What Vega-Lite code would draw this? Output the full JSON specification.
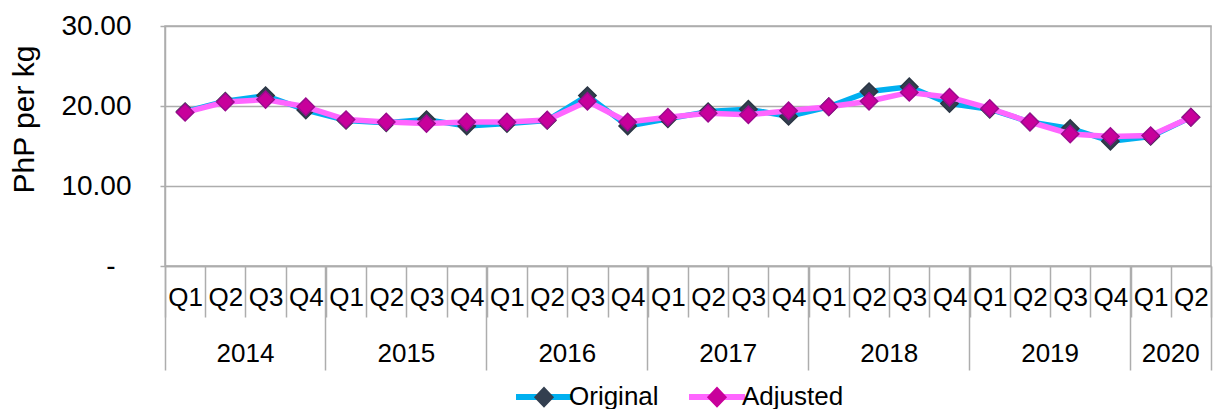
{
  "$schema": "https://vega.github.io/schema/vega-lite/v6.json",
  "autosize": "none",
  "width": 1046,
  "height": 240,
  "padding": {"left": 165, "top": 26, "right": 2, "bottom": 143},
  "background": "white",
  "config": {
    "font": "Liberation Sans",
    "view": {"stroke": "#ADADAD", "strokeWidth": 1.5},
    "axis": {"labelColor": "#000000", "titleColor": "#000000", "labelFont": "Liberation Sans", "titleFont": "Liberation Sans"},
    "legend": {"labelColor": "#000000", "labelFont": "Liberation Sans"}
  },
  "data": {
    "values": [
      {"period": "2014 Q1", "series": "Original", "value": 19.3}, {"period": "2014 Q1", "series": "Adjusted", "value": 19.2},
      {"period": "2014 Q2", "series": "Original", "value": 20.6}, {"period": "2014 Q2", "series": "Adjusted", "value": 20.5},
      {"period": "2014 Q3", "series": "Original", "value": 21.3}, {"period": "2014 Q3", "series": "Adjusted", "value": 20.8},
      {"period": "2014 Q4", "series": "Original", "value": 19.5}, {"period": "2014 Q4", "series": "Adjusted", "value": 19.9},
      {"period": "2015 Q1", "series": "Original", "value": 18.2}, {"period": "2015 Q1", "series": "Adjusted", "value": 18.3},
      {"period": "2015 Q2", "series": "Original", "value": 17.9}, {"period": "2015 Q2", "series": "Adjusted", "value": 18.0},
      {"period": "2015 Q3", "series": "Original", "value": 18.3}, {"period": "2015 Q3", "series": "Adjusted", "value": 17.8},
      {"period": "2015 Q4", "series": "Original", "value": 17.5}, {"period": "2015 Q4", "series": "Adjusted", "value": 18.0},
      {"period": "2016 Q1", "series": "Original", "value": 17.8}, {"period": "2016 Q1", "series": "Adjusted", "value": 18.0},
      {"period": "2016 Q2", "series": "Original", "value": 18.2}, {"period": "2016 Q2", "series": "Adjusted", "value": 18.25},
      {"period": "2016 Q3", "series": "Original", "value": 21.3}, {"period": "2016 Q3", "series": "Adjusted", "value": 20.6},
      {"period": "2016 Q4", "series": "Original", "value": 17.5}, {"period": "2016 Q4", "series": "Adjusted", "value": 18.0},
      {"period": "2017 Q1", "series": "Original", "value": 18.4}, {"period": "2017 Q1", "series": "Adjusted", "value": 18.6},
      {"period": "2017 Q2", "series": "Original", "value": 19.3}, {"period": "2017 Q2", "series": "Adjusted", "value": 19.1},
      {"period": "2017 Q3", "series": "Original", "value": 19.6}, {"period": "2017 Q3", "series": "Adjusted", "value": 18.9},
      {"period": "2017 Q4", "series": "Original", "value": 18.7}, {"period": "2017 Q4", "series": "Adjusted", "value": 19.4},
      {"period": "2018 Q1", "series": "Original", "value": 19.9}, {"period": "2018 Q1", "series": "Adjusted", "value": 19.9},
      {"period": "2018 Q2", "series": "Original", "value": 21.8}, {"period": "2018 Q2", "series": "Adjusted", "value": 20.6},
      {"period": "2018 Q3", "series": "Original", "value": 22.4}, {"period": "2018 Q3", "series": "Adjusted", "value": 21.7},
      {"period": "2018 Q4", "series": "Original", "value": 20.3}, {"period": "2018 Q4", "series": "Adjusted", "value": 21.1},
      {"period": "2019 Q1", "series": "Original", "value": 19.6}, {"period": "2019 Q1", "series": "Adjusted", "value": 19.7},
      {"period": "2019 Q2", "series": "Original", "value": 18.0}, {"period": "2019 Q2", "series": "Adjusted", "value": 18.0},
      {"period": "2019 Q3", "series": "Original", "value": 17.2}, {"period": "2019 Q3", "series": "Adjusted", "value": 16.5},
      {"period": "2019 Q4", "series": "Original", "value": 15.6}, {"period": "2019 Q4", "series": "Adjusted", "value": 16.2},
      {"period": "2020 Q1", "series": "Original", "value": 16.2}, {"period": "2020 Q1", "series": "Adjusted", "value": 16.3},
      {"period": "2020 Q2", "series": "Original", "value": 18.6}, {"period": "2020 Q2", "series": "Adjusted", "value": 18.6}
    ]
  },
  "encoding": {
    "y": {
      "field": "value",
      "type": "quantitative",
      "scale": {"domain": [0, 30], "nice": false, "zero": true},
      "axis": {
        "title": "PhP per kg",
        "titleFontSize": 30,
        "titleFontWeight": "normal",
        "titlePadding": 21,
        "titleY": 93,
        "values": [0, 10, 20, 30],
        "labelExpr": "datum.value == 0 ? '-' : format(datum.value, '.2f')",
        "labelFontSize": 28,
        "labelPadding": {"condition": {"test": "datum.value == 0", "value": 45}, "value": 29},
        "tickSize": 5,
        "tickColor": "#ADADAD",
        "tickWidth": 1.5,
        "domainColor": "#ADADAD",
        "domainWidth": 1.5,
        "grid": true,
        "gridColor": "#ADADAD",
        "gridWidth": 1.5
      }
    }
  },
  "layer": [
    {
      "transform": [{"filter": "datum.series === 'Original'"}],
      "mark": {"type": "line", "strokeWidth": 5.5, "strokeJoin": "round", "strokeCap": "round"},
      "encoding": {
        "x": {
          "field": "period", "type": "ordinal",
          "scale": {"type": "band", "paddingInner": 0, "paddingOuter": 0},
          "axis": {
            "title": null, "orient": "bottom", "tickBand": "extent", "ticks": true,
            "labelExpr": "split(datum.value, ' ')[1]",
            "labelPadding": -20, "labelBaseline": "middle", "labelAlign": "center", "labelAngle": 0,
            "labelFontSize": 26, "labelOverlap": false, "labelBound": false, "labelFlush": false,
            "tickSize": 51, "tickColor": "#ADADAD", "tickWidth": 1.5,
            "domainColor": "#ADADAD", "domainWidth": 1.5, "grid": false
          }
        },
        "stroke": {
          "field": "series", "type": "nominal",
          "scale": {"domain": ["Original", "Adjusted"], "range": ["#00B0F0", "#FF66FF"]},
          "legend": {
            "title": null, "orient": "none", "legendX": 348, "legendY": 340, "direction": "horizontal",
            "symbolType": "stroke", "symbolSize": 3136, "symbolStrokeWidth": 6,
            "labelFontSize": 26, "labelOffset": -6, "columnPadding": 18, "padding": 0
          }
        }
      }
    },
    {
      "transform": [{"filter": "datum.series === 'Original'"}],
      "mark": {"type": "point", "shape": "diamond", "filled": true, "size": 300, "opacity": 1, "stroke": "#2B3645", "strokeWidth": 1.5},
      "encoding": {
        "x": {
          "field": "period", "type": "ordinal",
          "scale": {"type": "band", "paddingInner": 0, "paddingOuter": 0},
          "axis": {
            "title": null, "orient": "bottom",
            "values": ["2014 Q3", "2015 Q3", "2016 Q3", "2017 Q3", "2018 Q3", "2019 Q3", "2020 Q2"],
            "labelExpr": "split(datum.value, ' ')[0]",
            "ticks": false, "tickSize": 0, "domain": false,
            "labelOffset": -20.1,
            "labelPadding": 87, "labelBaseline": "middle", "labelAlign": "center", "labelAngle": 0,
            "labelFontSize": 26, "labelOverlap": false, "labelBound": false, "labelFlush": false, "grid": false
          }
        },
        "fill": {
          "field": "series", "type": "nominal", "sort": "descending",
          "scale": {"range": ["#333F50", "#C8009B"]},
          "legend": {
            "title": null, "orient": "none", "legendX": 348, "legendY": 340, "direction": "horizontal",
            "symbolType": "M-1,0L1,0M0,-0.38L0.36,0L0,0.38L-0.36,0Z", "symbolSize": 3136,
            "symbolStrokeWidth": 6, "symbolStrokeColor": "transparent",
            "labelFontSize": 26, "labelOffset": -6, "columnPadding": 18, "padding": 0, "labelOpacity": 0
          }
        }
      }
    },
    {
      "transform": [{"filter": "datum.series === 'Adjusted'"}],
      "mark": {"type": "line", "strokeWidth": 5.5, "strokeJoin": "round", "strokeCap": "round"},
      "encoding": {
        "x": {
          "field": "period", "type": "ordinal",
          "scale": {"type": "band", "paddingInner": 0, "paddingOuter": 0},
          "axis": {
            "title": null, "orient": "bottom", "bandPosition": 0,
            "values": ["2014 Q1", "2015 Q1", "2016 Q1", "2017 Q1", "2018 Q1", "2019 Q1", "2020 Q1"],
            "labels": false, "domain": false, "grid": false,
            "tickSize": 104, "tickColor": "#ADADAD", "tickWidth": 1.5
          }
        },
        "stroke": {"field": "series", "type": "nominal"}
      }
    },
    {
      "transform": [{"filter": "datum.series === 'Adjusted'"}],
      "mark": {"type": "point", "shape": "diamond", "filled": true, "size": 300, "opacity": 1, "stroke": "#9C0A8E", "strokeWidth": 1.5},
      "encoding": {
        "x": {
          "field": "period", "type": "ordinal",
          "scale": {"type": "band", "paddingInner": 0, "paddingOuter": 0},
          "axis": {
            "title": null, "orient": "bottom", "bandPosition": 1,
            "values": ["2020 Q2"],
            "labels": false, "domain": false, "grid": false,
            "tickSize": 104, "tickColor": "#ADADAD", "tickWidth": 1.5
          }
        },
        "fill": {"field": "series", "type": "nominal", "sort": "descending"}
      }
    }
  ],
  "resolve": {"axis": {"x": "independent"}}
}
